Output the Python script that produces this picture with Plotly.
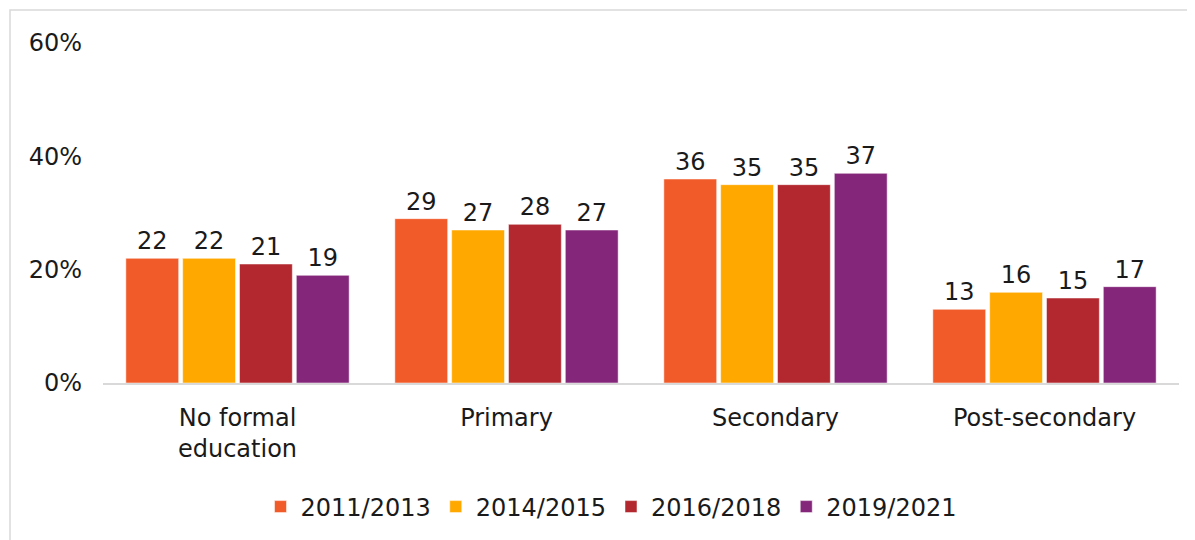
import plotly.graph_objects as go

categories = ["No formal<br>education", "Primary", "Secondary", "Post-secondary"]
series_names = ["2011/2013", "2014/2015", "2016/2018", "2019/2021"]
values_2011_2013 = [22, 29, 36, 13]
values_2014_2015 = [22, 27, 35, 16]
values_2016_2018 = [21, 28, 35, 15]
values_2019_2021 = [19, 27, 37, 17]
colors = ["#F15A29", "#FFA800", "#B2282E", "#84277A"]
y_ticks = [0, 20, 40, 60]
y_tick_labels = ["0%", "20%", "40%", "60%"]

all_values = [values_2011_2013, values_2014_2015, values_2016_2018, values_2019_2021]

FONT = "DejaVu Sans"
FS = 24
fig = go.Figure()
for name, vals, col in zip(series_names, all_values, colors):
    fig.add_trace(go.Bar(
        x=categories, y=vals, name=name,
        marker=dict(color=col, line=dict(color="rgba(255,255,255,0.5)", width=1)),
        text=[str(v) for v in vals], textposition="outside",
        textfont=dict(size=FS, color="#1a1a1a", family=FONT),
        constraintext="none", cliponaxis=False,
    ))

W, H = 1195, 540
L, R, T, B = 95, 24, 35, 165
pw, ph = W - L - R, H - T - B
# the page renders with an 8px offset -> layout positions = reference pixels minus 8
fig.add_shape(type="rect", xref="paper", yref="paper",
              x0=(2 - L) / pw, x1=(W + 5 - L) / pw,
              y0=(T + ph - (H + 5)) / ph, y1=(T + ph - 2) / ph,
              line=dict(color="#d9d9d9", width=1.5), fillcolor="rgba(0,0,0,0)", layer="below")

fig.update_layout(
    width=W, height=H, autosize=False,
    margin=dict(l=L, r=R, t=T, b=B, autoexpand=False),
    paper_bgcolor="white", plot_bgcolor="white",
    barmode="group", bargap=0.155, bargroupgap=0.07,
    font=dict(family=FONT, size=FS, color="#1a1a1a"),
    showlegend=True,
    legend=dict(orientation="h", x=(603 - L) / pw, xanchor="center",
                y=(T + ph - 499) / ph, yanchor="middle",
                font=dict(size=FS, family=FONT), traceorder="normal"),
    xaxis=dict(showline=True, linecolor="#d9d9d9", linewidth=2, ticks="",
               tickangle=0, tickfont=dict(size=FS, family=FONT), ticklabelstandoff=12),
    yaxis=dict(range=[0, 60], tickvals=y_ticks, ticktext=y_tick_labels,
               showgrid=False, zeroline=False, showline=False,
               tickfont=dict(size=FS, family=FONT), ticklabelstandoff=20),
)
fig.write_html("out.html")
